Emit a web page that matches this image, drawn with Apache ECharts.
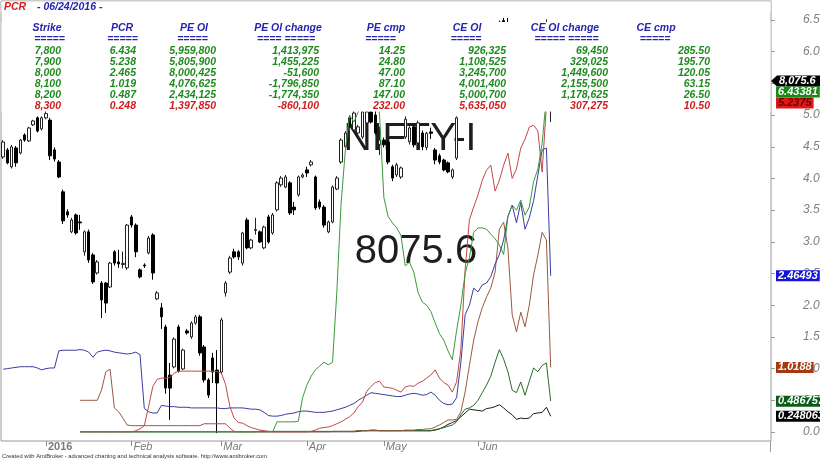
<!DOCTYPE html>
<html><head><meta charset="utf-8">
<script src="https://cdn.jsdelivr.net/npm/echarts@6/dist/echarts.min.js"></script>
<style>html,body{margin:0;padding:0;background:#fff}#c{width:820px;height:461px}</style>
</head><body><div id="c"></div>
<script>
// ---------------- DATA ----------------
const symbolName = 'NIFTY-I';
const chartTitle = 'PCR';

// trading calendar (days of month)
const dec2015 = [17,18,21,22,23,24,28,29,30,31];
const jan2016 = [1,4,5,6,7,8,11,12,13,14,15,18,19,20,21,22,25,27,28,29];
const feb2016 = [1,2,3,4,5,8,9,10,11,12,15,16,17,18,19,22,23,24,25,26,29];
const mar2016 = [1,2,3,4,8,9,10,11,14,15,16,17,18,21,22,23,28,29,30,31];
const apr2016 = [1,4,5,6,7,8,11,12,13,18,20,21,22,25,26,27,28,29];
const may2016 = [2,3,4,5,6,9,10,11,12,13,16,17,18,19,20,23,24,25,26,27,30,31];
const jun2016 = [1,2,3,6,7,8,9,10,13,14,15,16,17,20,21,22,23,24];

// NIFTY-I daily OHLC
const open = [7806,7831,7771,7838,7820,7884,7863,7920,7945,7906,
7945,7937,7831,7788,7682,7611,7540,7600,7575,7469,
7540,7458,7394,7358,7358,7344,7469,7433,7424,7412,
7593,7564,7405,7422,7465,7529,7302,7270,7202,7031,
7060,7202,7053,7188,7167,7216,7238,7131,7014,7092,
7049,7042,7323,7397,7469,7469,7429,7582,7483,7545,
7540,7483,7593,7536,7618,7707,7699,7714,7628,7671,
7735,7760,7778,7735,7646,7628,7540,7575,7692,7788,
7842,7945,7902,7891,7877,7927,7966,7955,7850,7866,
7859,7771,7742,7735,7877,7860,7913,7856,7891,7840,
7895,7831,7810,7795,7785,7735,7802,7980,8080,8170,
8190,8170,8150,8235,8225,8200,8280,8290,8215,8120,
8110,8130,8230,8140,8160,8250,8220,8210,8010];
const high = [7866,7838,7849,7845,7870,7890,7913,7938,7950,7950,
7975,7945,7840,7795,7690,7620,7590,7605,7600,7545,
7548,7465,7440,7365,7362,7433,7475,7476,7470,7568,
7600,7570,7410,7428,7525,7535,7330,7287,7210,7074,
7165,7210,7125,7195,7222,7245,7245,7138,7020,7110,
7120,7235,7365,7455,7480,7475,7540,7590,7515,7590,
7545,7562,7600,7607,7720,7738,7742,7720,7646,7740,
7748,7771,7795,7740,7655,7635,7580,7705,7738,7872,
7898,7955,7975,7920,7980,7985,7985,7970,7913,7875,
7865,7778,7785,7772,7950,7915,7920,7935,7900,7895,
7910,7838,7818,7800,7790,7765,7950,8090,8180,8215,
8200,8180,8225,8260,8240,8280,8290,8300,8300,8135,
8130,8215,8240,8195,8250,8260,8240,8295,8090];
const low = [7799,7780,7765,7771,7815,7860,7859,7916,7893,7900,
7940,7795,7790,7731,7568,7590,7535,7530,7547,7455,
7430,7355,7388,7234,7252,7340,7420,7412,7410,7405,
7555,7450,7375,7412,7460,7370,7298,7195,6965,6872,
7055,7040,7048,7175,7160,7210,7100,7005,6950,7003,
6825,7035,7310,7390,7445,7440,7420,7478,7478,7530,
7500,7478,7498,7530,7612,7700,7695,7600,7600,7665,
7730,7735,7772,7618,7620,7555,7535,7570,7688,7782,
7838,7910,7898,7885,7870,7920,7925,7885,7813,7840,
7780,7720,7735,7728,7870,7850,7840,7850,7830,7830,
7870,7780,7780,7755,7748,7728,7795,7975,8070,8160,
8140,8120,8140,8200,8185,8195,8250,8220,8160,8080,
8090,8125,8140,8120,8150,8200,8195,8205,7930];
const close = [7859,7785,7842,7785,7866,7866,7909,7934,7898,7945,
7960,7810,7799,7735,7579,7600,7582,7536,7572,7540,
7440,7362,7433,7298,7287,7429,7429,7426,7428,7564,
7564,7469,7380,7419,7518,7394,7323,7238,6985,6985,
7159,7046,7120,7181,7216,7238,7110,7014,6960,7042,
7003,7227,7358,7447,7451,7451,7536,7483,7511,7548,
7504,7557,7504,7600,7714,7731,7735,7607,7618,7735,
7742,7749,7788,7625,7628,7564,7575,7699,7731,7866,
7891,7920,7962,7913,7966,7966,7930,7891,7866,7849,
7788,7731,7778,7767,7940,7909,7849,7927,7842,7890,
7890,7795,7788,7760,7753,7760,7945,8075,8165,8185,
8165,8160,8215,8220,8200,8270,8285,8230,8170,8110,
8115,8210,8150,8180,8240,8220,8205,8275,8075.6];

// PCR per strike
const pcr7800 = [null,null,null,null,null,null,null,null,null,null,
null,null,null,null,null,null,null,null,0,0,
0,0,0,0,0,0,0,0,0,0,
0,0,0,0,0,0,0,0,0,0,
0,0,0,0,0,0,0,0,0,0,
0,0,0,0,0,0,0,0,0,0,
0,0,0,0,0.16,0.16,0.16,0.16,0.16,0.17,
0.54,0.74,0.88,0.98,1.04,1.10,1.06,1.10,2.20,3.60,
4.45,5.00,4.89,5.05,5.30,5.50,5.60,5.40,5.00,3.70,
3.40,3.30,3.22,3.10,2.62,2.68,2.52,2.20,2.05,2.00,
1.90,1.72,1.55,1.45,1.28,1.14,1.60,2.00,2.50,2.75,
3.15,3.22,3.22,3.20,3.12,3.05,2.95,2.80,3.40,3.58,
3.50,3.66,3.42,3.55,3.95,4.15,4.55,5.30,6.43381];
const pcr7900 = [null,null,null,null,null,null,null,null,null,null,
null,null,null,null,null,null,null,null,0,0,
0,0,0,0,0,0,0,0,0,0,
0,0.02,0.05,0.10,0.40,0.72,0.83,0.85,0.85,0.86,
0.93,0.96,0.96,0.96,0.96,0.96,0.96,0.96,0.96,0.96,
0.95,0.93,0.75,0.40,0.22,0.15,0.14,0.10,0.07,0.05,
0.03,0.02,0.01,0,0,0,0,0,0,0,
0,0,0.01,0.03,0.06,0.07,0.08,0.10,0.13,0.16,
0.20,0.24,0.30,0.40,0.47,0.64,0.72,0.78,0.80,0.71,
0.70,0.69,0.66,0.63,0.71,0.73,0.72,0.77,0.80,0.85,
0.90,0.98,0.85,0.78,0.74,0.63,0.79,1.30,2.56,3.35,
3.55,3.74,3.97,4.13,4.21,3.80,3.97,4.21,4.40,4.00,
4.15,4.48,4.62,4.81,4.84,4.75,4.10,5.15,5.2375];
const pcr8000 = [0.99,1.00,1.01,1.02,1.03,1.03,1.03,1.03,1.01,0.98,
1.00,1.01,1.01,1.28,1.29,1.29,1.29,1.29,1.30,1.29,
1.26,1.18,1.26,1.28,1.29,1.28,1.26,1.25,1.24,1.23,
1.24,1.26,1.22,0.37,0.32,0.30,0.30,0.42,0.41,0.40,
0.40,0.39,0.39,0.39,0.38,0.38,0.38,0.38,0.38,0.38,
0.38,0.37,0.37,0.38,0.38,0.38,0.38,0.37,0.36,0.36,
0.35,0.31,0.26,0.25,0.25,0.26,0.28,0.29,0.30,0.32,
0.33,0.33,0.32,0.31,0.31,0.31,0.32,0.33,0.35,0.37,
0.39,0.42,0.45,0.50,0.54,0.58,0.62,0.61,0.60,0.59,
0.58,0.57,0.56,0.56,0.58,0.60,0.61,0.60,0.58,0.59,
0.63,0.58,0.50,0.45,0.43,0.44,0.54,1.10,1.85,2.00,
2.27,2.21,2.32,2.35,2.45,2.65,2.80,3.03,3.40,3.58,
3.30,3.62,3.20,3.38,3.65,4.05,4.45,4.48,2.46493];
const pcr8100 = [null,null,null,null,null,null,null,null,null,null,
null,null,null,null,null,null,null,null,0.50,0.50,
0.50,0.50,0.50,0.66,0.95,0.99,0.38,0.32,0.22,0.11,
0.10,0.10,0.10,0.10,0.10,0.10,0.10,0.10,0.10,0.10,
0.10,0.10,0.10,0.10,0.10,0.10,0.10,0.13,0.13,0.13,
0.13,0.13,0.13,0.06,0.01,0,0,0,0,0,
0,0,0,0,0,0,0,0,0,0,
0,0,0,0,0,0,0,0.01,0.01,0.01,
0.01,0.01,0.01,0.02,0.02,0.02,0.02,0.02,0.02,0.02,
0.02,0.02,0.02,0.02,0.03,0.03,0.03,0.04,0.04,0.05,
0.05,0.08,0.11,0.15,0.19,0.19,0.20,0.32,0.63,1.05,
1.45,1.74,1.96,2.13,2.27,2.52,3.20,3.31,2.90,1.85,
1.58,1.89,1.66,2.00,2.48,2.79,3.15,3.03,1.0188];
const pcr8200 = [null,null,null,null,null,null,null,null,null,null,
null,null,null,null,null,null,null,null,0,0,
0,0,0,0,0,0,0,0,0,0,
0,0,0,0,0,0,0,0,0,0,
0,0,0,0,0,0,0,0,0,0,
0,0,0,0,0,0,0,0,0,0,
0.01,0.01,0.01,0.01,0.01,0.01,0.01,0.01,0.01,0.01,
0.01,0.01,0.01,0.01,0.01,0.01,0.01,0.01,0.01,0.01,
0.01,0.01,0.01,0.02,0.02,0.02,0.02,0.02,0.02,0.02,
0.02,0.02,0.02,0.02,0.02,0.02,0.02,0.02,0.02,0.02,
0.02,0.04,0.05,0.07,0.09,0.11,0.16,0.27,0.36,0.38,
0.42,0.50,0.62,0.74,0.88,1.10,1.30,1.15,0.95,0.66,
0.62,0.79,0.58,0.80,1.01,0.95,1.05,1.09,0.486757];
const pcr8300 = [null,null,null,null,null,null,null,null,null,null,
null,null,null,null,null,null,null,null,0,0,
0,0,0,0,0,0,0,0,0,0,
0,0,0,0,0,0,0,0,0,0,
0,0,0,0,0,0,0,0,0,0,
0,0,0,0,0,0,0,0,0,0,
0,0,0,0,0,0,0,0,0,0,
0,0,0,0,0,0,0,0,0,0,
0,0,0,0.01,0.02,0.02,0.03,0.03,0.02,0.02,
0.02,0.02,0.02,0.02,0.02,0.02,0.02,0.02,0.02,0.02,
0.02,0.03,0.05,0.08,0.12,0.15,0.18,0.24,0.30,0.36,
0.35,0.34,0.33,0.37,0.38,0.40,0.43,0.38,0.32,0.27,
0.20,0.22,0.21,0.22,0.29,0.30,0.31,0.39,0.248063];

// option chain table
const strikes = [7800,7900,8000,8100,8200,8300];
const pcrTable = [6.434,5.238,2.465,1.019,0.487,0.248];
const peOI = [5959800,5805900,8000425,4076625,2434125,1397850];
const peOIChange = [1413975,1455225,-51600,-1796850,-1774350,-860100];
const peCmp = [14.25,24.80,47.00,87.10,147.00,232.00];
const ceOI = [926325,1108525,3245700,4001400,5000700,5635050];
const ceOIChange = [69450,329025,1449600,2155500,1178625,307275];
const ceCmp = [285.50,195.70,120.05,63.15,26.50,10.50];

// right axis ticks
const pcrAxisMin = 0, pcrAxisMax = 6.5, pcrAxisStep = 0.5;

// ---------------- BUILD ----------------
function pad2(n){return (n<10?'0':'')+n;}
const monthGroups = [['2015-12',dec2015],['2016-01',jan2016],['2016-02',feb2016],['2016-03',mar2016],
  ['2016-04',apr2016],['2016-05',may2016],['2016-06',jun2016]];
const dates = [];
monthGroups.forEach(([ym, days]) => days.forEach(d => dates.push(ym + '-' + pad2(d))));
const FUTURE_SLOTS = 51;
const categories = dates.concat(Array.from({length: FUTURE_SLOTS}, (_, k) => 'blank' + k));
const monthStart = new Set();
for (let i = 1; i < dates.length; i++) if (dates[i].slice(0,7) !== dates[i-1].slice(0,7)) monthStart.add(i);
const MONTHS = ['Jan','Feb','Mar','Apr','May','Jun','Jul','Aug','Sep','Oct','Nov','Dec'];

const candleData = dates.map((d, i) => [open[i], close[i], low[i], high[i]]);

const FONT = '"Liberation Sans", Arial, sans-serif';
const lineDefs = [
  {name:'8300', data:pcr8300, color:'#1a1a1a', badge:'#000000', fg:'#ffffff'},
  {name:'8200', data:pcr8200, color:'#2b6b2b', badge:'#0c5c18', fg:'#ffffff'},
  {name:'8100', data:pcr8100, color:'#9a5840', badge:'#a4380f', fg:'#ffffff'},
  {name:'8000', data:pcr8000, color:'#3b3ba0', badge:'#1414d8', fg:'#ffffff'},
  {name:'7900', data:pcr7900, color:'#c04848', badge:'#e01818', fg:'#6e0000'},
  {name:'7800', data:pcr7800, color:'#3a9a3a', badge:'#148c14', fg:'#ffffff'}
];

const chart = echarts.init(document.getElementById('c'), null, {renderer:'canvas', width:820, height:461});

const isMonthStart = (idx) => monthStart.has(idx);

chart.setOption({
  animation: false,
  backgroundColor: '#ffffff',
  grid: [
    {left:1, right:49, top:1, bottom:20, show:true, borderColor:'#9a9a9a', borderWidth:1, backgroundColor:'transparent', outerBoundsMode:'none'},
    {left:1, right:49, top:20, bottom:29, show:false, outerBoundsMode:'none'}
  ],
  xAxis: [
    {type:'category', gridIndex:0, data:categories, boundaryGap:true,
     axisLine:{show:false},
     axisTick:{show:true, interval:isMonthStart, alignWithLabel:true, length:5, lineStyle:{color:'#8a8a8a'}},
     axisLabel:{interval:isMonthStart, align:'left', margin:0, padding:[0,0,0,2], color:'#7a7a7a', fontSize:11, fontFamily:FONT,
       formatter:(val, idx) => {
         if (!monthStart.has(idx)) return '';
         const m = +val.slice(5,7);
         return m === 1 ? '{y|' + val.slice(0,4) + '}' : '{m|' + MONTHS[m-1] + '}';
       },
       rich:{ y:{fontWeight:'bold', fontStyle:'normal', fontSize:11, color:'#7a7a7a', fontFamily:FONT},
              m:{fontStyle:'italic', fontSize:11, color:'#7a7a7a', fontFamily:FONT} }},
     splitLine:{show:false}},
    {type:'category', gridIndex:1, data:categories, boundaryGap:true, show:false}
  ],
  yAxis: [
    {type:'value', gridIndex:0, min:6797, max:8360, show:false, splitLine:{show:false}},
    {type:'value', gridIndex:1, min:pcrAxisMin, max:pcrAxisMax, interval:pcrAxisStep, position:'right',
     axisLine:{show:false},
     axisTick:{show:true, length:4, lineStyle:{color:'#9a9a9a'}},
     axisLabel:{margin:32, color:'#808080', fontStyle:'italic', fontSize:12, fontFamily:FONT, formatter:(v)=>v.toFixed(1)},
     splitLine:{show:false}}
  ],
  series: [
    {type:'candlestick', xAxisIndex:0, yAxisIndex:0, data:candleData, barWidth:3, z:2, silent:true,
     itemStyle:{color:'#ffffff', color0:'#000000', borderColor:'#222222', borderColor0:'#000000', borderWidth:1}}
  ].concat(lineDefs.map(d => ({
    type:'line', name:d.name, xAxisIndex:1, yAxisIndex:1, data:d.data, showSymbol:false, symbol:'none',
    z:3, silent:true, lineStyle:{width:1, color:d.color}
  })))
});

// ---------------- OVERLAY TEXT ----------------
const g = [];
function txt(o){ // helper for text elements
  const st = Object.assign({}, o.style);
  if (st.align) st.textAlign = st.align;
  if (st.verticalAlign) st.textVerticalAlign = st.verticalAlign;
  g.push({type:'text', z:o.z, silent:true, style:st});
}
const lastClose = close[close.length-1];
// big watermark texts (behind series)
txt({z:1, style:{text:symbolName, x:410, y:139, font:'39px ' + FONT, fill:'#1e1e1e', align:'center', verticalAlign:'middle'}});
txt({z:1, style:{text:String(lastClose), x:416, y:252, font:'40px ' + FONT, fill:'#1e1e1e', align:'center', verticalAlign:'middle'}});

// white band for the table
g.push({type:'rect', z:50, silent:true, shape:{x:1.5, y:1.5, width:769, height:11.5}, style:{fill:'#ffffff'}});
g.push({type:'rect', z:50, silent:true, shape:{x:1.5, y:22, width:769, height:89.5}, style:{fill:'#ffffff'}});

const lastDate = dates[dates.length-1];
const dateStr = lastDate.slice(5,7) + '/' + lastDate.slice(8,10) + '/' + lastDate.slice(0,4);
const TFONT = 'italic bold 10.5px ' + FONT;
txt({z:51, style:{text:chartTitle, x:4, y:7, font:TFONT, fill:'#d42020', align:'left', verticalAlign:'middle'}});
txt({z:51, style:{text:'- ' + dateStr + ' -', x:37, y:7, font:TFONT, fill:'#2424b0', align:'left', verticalAlign:'middle'}});

const fmtInt = v => v.toLocaleString('en-US');
const tableCols = [
  {header:'Strike', rule:'=====', hx:47, rx:49.5, vr:61, vals:strikes.map(fmtInt)},
  {header:'PCR', rule:'=====', hx:122, rx:122.5, vr:136, vals:pcrTable.map(v=>v.toFixed(3))},
  {header:'PE OI', rule:'=====', hx:194, rx:192.5, vr:216, vals:peOI.map(fmtInt)},
  {header:'PE OI change', rule:'==== =====', hx:288, rx:286, vr:319, vals:peOIChange.map(fmtInt)},
  {header:'PE cmp', rule:'=====', hx:386, rx:380.5, vr:405, vals:peCmp.map(v=>v.toFixed(2))},
  {header:'CE OI', rule:'=====', hx:467, rx:466, vr:506, vals:ceOI.map(fmtInt)},
  {header:'CE OI change', rule:'===== =====', hx:565, rx:566.5, vr:608, vals:ceOIChange.map(fmtInt)},
  {header:'CE cmp', rule:'=====', hx:656, rx:655, vr:710, vals:ceCmp.map(v=>v.toFixed(2))}
];
const headerY = 28.5, ruleY = 39.5, rowY0 = 50.8, rowStep = 11.05;
tableCols.forEach(c => {
  txt({z:51, style:{text:c.header, x:c.hx, y:headerY, font:TFONT, fill:'#2424b0', align:'center', verticalAlign:'middle'}});
  txt({z:51, style:{text:c.rule, x:c.rx, y:ruleY, font:TFONT, fill:'#2424b0', align:'center', verticalAlign:'middle'}});
  c.vals.forEach((v, r) => {
    txt({z:51, style:{text:v, x:c.vr, y:rowY0 + r*rowStep, font:TFONT,
      fill: r === c.vals.length-1 ? '#d01c1c' : '#1f8a1f', align:'right', verticalAlign:'middle'}});
  });
});

// right-side value badges
const BFONT = 'italic bold 11px ' + FONT;
const priceY = chart.convertToPixel({yAxisIndex:0}, lastClose);
g.push({type:'polygon', z:60, silent:true,
  shape:{points:[[771,priceY],[777,priceY-5.5],[820,priceY-5.5],[820,priceY+5.5],[777,priceY+5.5]]},
  style:{fill:'#000000'}});
txt({z:61, style:{text:lastClose.toLocaleString('en-US',{maximumFractionDigits:1}), x:779, y:priceY, font:BFONT, fill:'#ffffff', align:'left', verticalAlign:'middle'}});
const badgeList = lineDefs.map(d => {
  const v = d.data[d.data.length-1];
  return {v, y: chart.convertToPixel({yAxisIndex:1}, v), bg:d.badge, fg:d.fg};
}).sort((a,b) => b.v - a.v);
let prevY = priceY;
const STEP = 11;
badgeList.forEach(b => {
  const y = Math.max(b.y, prevY + STEP);
  prevY = y;
  g.push({type:'text', z:60, silent:true, style:{text:String(b.v), x:776, y:y, font:BFONT, fill:b.fg,
    backgroundColor:b.bg, padding:[0,2,0,2], lineHeight:11, align:'left', textAlign:'left', verticalAlign:'middle', textVerticalAlign:'middle'}});
});

// axis line extension below plot
g.push({type:'line', z:10, silent:true, shape:{x1:770.5, y1:441, x2:770.5, y2:452}, style:{stroke:'#9a9a9a', lineWidth:1}});

// footnote
txt({z:60, style:{text:'Created with AmiBroker - advanced charting and technical analysis software. http://www.amibroker.com',
  x:2, y:456.5, font:'5.8px ' + FONT, fill:'#333333', align:'left', verticalAlign:'middle'}});

chart.setOption({graphic: g});
</script></body></html>
